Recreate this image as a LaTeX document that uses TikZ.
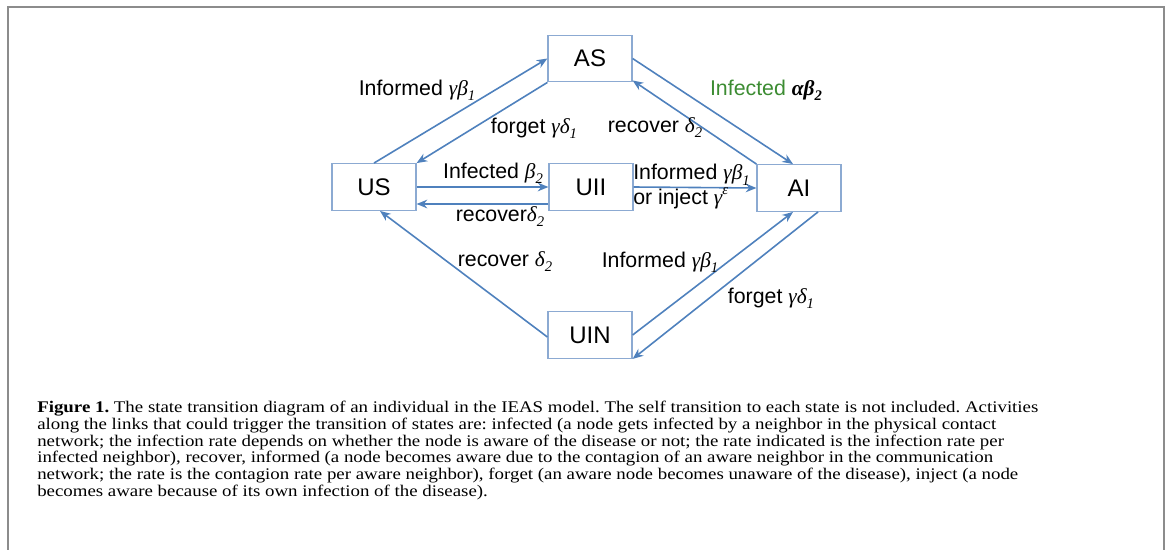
\documentclass[tikz,border=0pt]{standalone}
\usepackage{fontspec}
\setmainfont{Liberation Serif}
\newfontfamily\capfont[FakeStretch=1.16]{Liberation Serif}
\newfontfamily\lblfont{Liberation Sans}
\newfontfamily\grkfont{Liberation Serif}
\usetikzlibrary{arrows.meta,calc}

\definecolor{arrowblue}{RGB}{79,129,189}
\definecolor{boxblue}{RGB}{140,170,210}
\definecolor{framegray}{RGB}{140,140,140}
\definecolor{infgreen}{RGB}{60,140,50}

% Greek rate symbols in italic serif, with small lowered indices
\newcommand\gk[1]{{\grkfont\itshape #1}}
\newcommand\idx[1]{\raisebox{-0.45ex}{\grkfont\itshape\fontsize{11}{11}\selectfont #1}}
\newcommand\upidx[1]{\raisebox{0.9ex}{\grkfont\itshape\fontsize{11}{11}\selectfont #1}}

\begin{document}
\begin{tikzpicture}[x=0.75pt,y=-0.75pt,
  state/.style={draw=boxblue,line width=0.9pt,fill=white,minimum width=63pt,
    minimum height=35pt,inner sep=0pt,font=\lblfont\fontsize{18}{18}\selectfont},
  rate/.style={inner sep=0pt,font=\lblfont\fontsize{16}{18.75}\selectfont},
  arr/.style={draw=arrowblue,line width=1.2pt,-{Stealth[length=8pt,width=6.5pt]}},
  caption/.style={anchor=north west,inner sep=0pt,align=left,
    font=\capfont\frenchspacing\fontsize{12.2}{12.55}\selectfont}]

\useasboundingbox (0,0) rectangle (1168,550);

% outer frame, open at the bottom
\draw[framegray,line width=1.5pt] (8,550) -- (8,7) -- (1164,7) -- (1164,550);

% states
\node[state] (AS)  at (590,58.5) {AS};
\node[state] (US)  at (374,187)  {US};
\node[state] (UII) at (591,187)  {UII};
\node[state] (AI)  at (799,188)  {AI};
\node[state] (UIN) at (590,335)  {UIN};

% transitions
\draw[arr] (US.north) -- (AS.west);
\draw[arr] (AS.south west) -- (US.north east);
\draw[arr] (AS.east) -- ($(AI.north)+(-6,0)$);
\draw[arr] (AI.north west) -- ($(AS.south east)+(0,-2)$);
\draw[arr] (US.east) -- (UII.west);
\draw[arr] ($(UII.west)+(0,17)$) -- ($(US.east)+(0,17)$);
\draw[arr] (UII.east) -- (AI.west);
\draw[arr] ($(UIN.west)+(0,2)$) -- ($(US.south)+(6,0)$);
\draw[arr] (UIN.east) -- ($(AI.south)+(-6,0)$);
\draw[arr] ($(AI.south)+(19,0)$) -- (UIN.south east);

% rate labels
\node[rate] (l1) at (417,90)  {Informed \gk{γβ}\idx{1}};
\node[rate] (l2) at (534,128) {forget \gk{γδ}\idx{1}};
\node[rate] (l3) at (655,128) {recover \gk{δ}\idx{2}};
\node[rate,text=infgreen] (l4) at (766,90) {Infected \textcolor{black}{\gk{\bfseries αβ}\idx{\bfseries 2}}};
\node[rate] (l5) at (493,173) {Infected \gk{β}\idx{2}};
\node[rate] (l6) at (500,217) {recover\gk{δ}\idx{2}};
\node[rate,anchor=west,align=left] (l7) at (633,187)
  {Informed \gk{γβ}\idx{1}\\or inject \gk{γ}\upidx{ε}};
\node[rate] (l8) at (505,262) {recover \gk{δ}\idx{2}};
\node[rate] (l9) at (660,262) {Informed \gk{γβ}\idx{1}};
\node[rate] (l10) at (771,298) {forget \gk{γδ}\idx{1}};

% caption
\node[caption] (cap) at (37,401) {%
\textbf{Figure 1.} The state transition diagram of an individual in the IEAS model. The self transition to each state is not included. Activities\\
along the links that could trigger the transition of states are: infected (a node gets infected by a neighbor in the physical contact\\
network; the infection rate depends on whether the node is aware of the disease or not; the rate indicated is the infection rate per\\
infected neighbor), recover, informed (a node becomes aware due to the contagion of an aware neighbor in the communication\\
network; the rate is the contagion rate per aware neighbor), forget (an aware node becomes unaware of the disease), inject (a node\\
becomes aware because of its own infection of the disease).};
\end{tikzpicture}
\end{document}
